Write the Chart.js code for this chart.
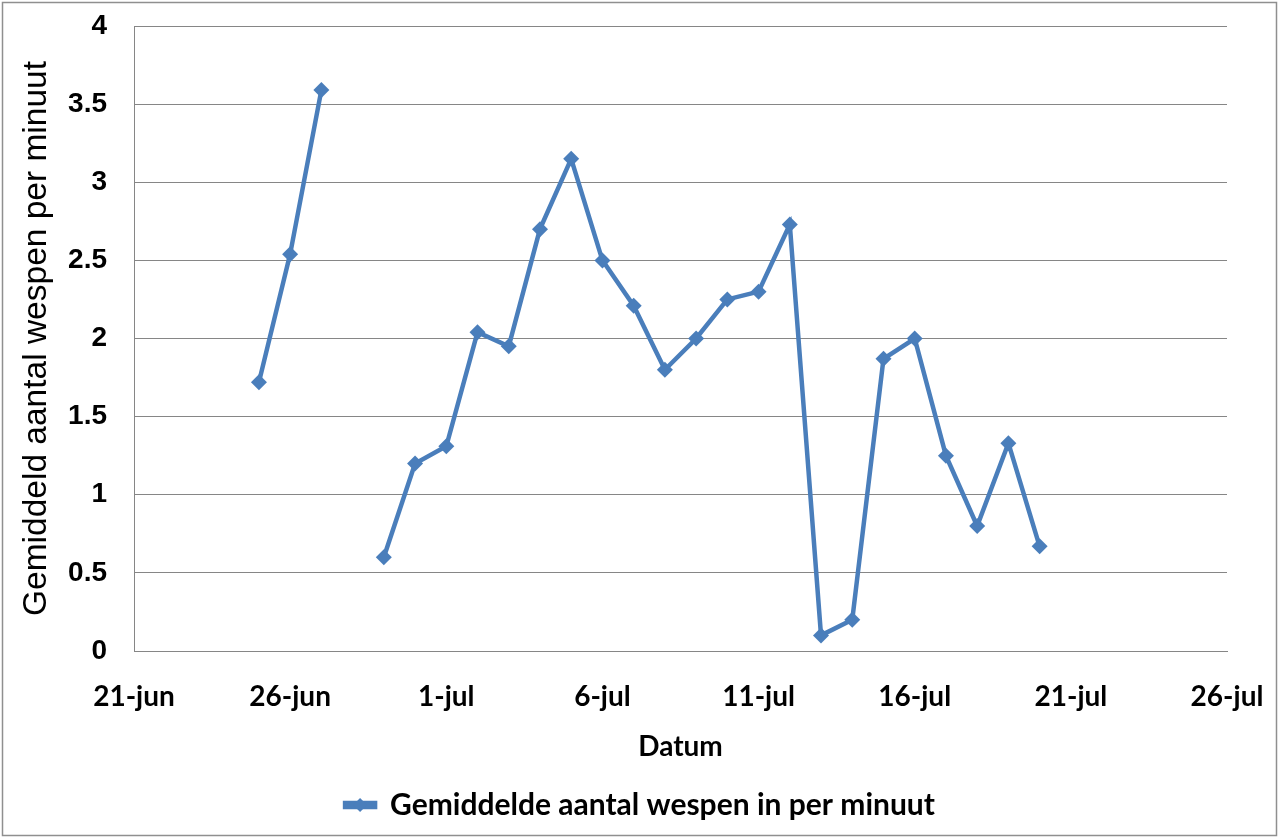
<!DOCTYPE html>
<html>
<head>
<meta charset="utf-8">
<script src="https://cdn.jsdelivr.net/npm/chart.js@4.4.1/dist/chart.umd.min.js"></script>
<style>
html,body{margin:0;padding:0;background:#fff;}
#wrap{position:absolute;left:0;top:0;width:1280px;height:838px;}
</style>
</head>
<body>
<div id="wrap"><canvas id="c" width="1280" height="838"></canvas></div>
<script>
// Days counted from 21-jun (day 0)
const dateLabels = ['25-jun','26-jun','27-jun','28-jun','29-jun','30-jun','1-jul','2-jul','3-jul','4-jul','5-jul','6-jul','7-jul','8-jul','9-jul','10-jul','11-jul','12-jul','13-jul','14-jul','15-jul','16-jul','17-jul','18-jul','19-jul','20-jul'];
const dayNumbers = [4,5,6,7,8,9,10,11,12,13,14,15,16,17,18,19,20,21,22,23,24,25,26,27,28,29];
const waspValues = [1.72,2.54,3.59,null,0.60,1.20,1.31,2.04,1.95,2.70,3.15,2.50,2.21,1.80,2.00,2.25,2.30,2.73,0.10,0.20,1.87,2.00,1.25,0.80,1.33,0.67];
const xTickLabels = ['21-jun','26-jun','1-jul','6-jul','11-jul','16-jul','21-jul','26-jul'];
const seriesName = 'Gemiddelde aantal wespen in per minuut';
const xTitle = 'Datum';
const yTitle = 'Gemiddeld aantal wespen per minuut';

const lineColor = '#4a7ebb';
const gridColor = '#868686';

const points = dayNumbers.map((d, i) => ({x: d, y: waspValues[i], label: dateLabels[i]}));

const framePlugin = {
  id: 'frame',
  beforeDraw(chart) {
    const ctx = chart.ctx;
    ctx.save();
    ctx.fillStyle = '#fff';
    ctx.fillRect(0, 0, chart.width, chart.height);
    ctx.strokeStyle = '#8f8f8f';
    ctx.lineWidth = 1.5;
    ctx.strokeRect(2.5, 2.5, 1274, 833);
    ctx.restore();
  },
  afterDraw(chart) {
    // diamond on legend line symbol
    const lg = chart.legend;
    if (!lg || !lg.legendHitBoxes || !lg.legendHitBoxes.length) return;
    const hb = lg.legendHitBoxes[0];
    const bw = lg.options.labels.boxWidth;
    const cx = hb.left + bw / 2;
    const cy = hb.top + hb.height / 2;
    const ctx = chart.ctx;
    ctx.save();
    ctx.fillStyle = lineColor;
    ctx.beginPath();
    ctx.moveTo(cx, cy - 7);
    ctx.lineTo(cx + 7, cy);
    ctx.lineTo(cx, cy + 7);
    ctx.lineTo(cx - 7, cy);
    ctx.closePath();
    ctx.fill();
    ctx.restore();
  }
};

new Chart(document.getElementById('c'), {
  type: 'line',
  data: {
    datasets: [{
      label: seriesName,
      data: points,
      borderColor: lineColor,
      backgroundColor: lineColor,
      borderWidth: 4.5,
      pointStyle: 'rectRot',
      pointRadius: 8,
      pointBorderWidth: 0,
      pointBackgroundColor: lineColor,
      spanGaps: false,
      tension: 0
    }]
  },
  options: {
    responsive: false,
    animation: false,
    devicePixelRatio: 1,
    layout: {padding: {left: 0, right: 0, top: 26, bottom: 8}},
    scales: {
      x: {
        type: 'linear',
        min: 0, max: 35,
        afterFit(scale) { scale.height = 129; scale.paddingLeft = 0; scale.paddingRight = 53; },
        ticks: {
          stepSize: 5,
          padding: 29,
          color: '#000',
          font: {family: 'Lato', weight: 'bold', size: 28},
          callback: (v) => xTickLabels[Math.round(v / 5)] ?? ''
        },
        grid: {display: false, drawTicks: false},
        border: {display: true, color: gridColor, width: 1},
        title: {
          display: true, text: xTitle, color: '#000',
          font: {family: 'Lato', weight: 'bold', size: 28},
          padding: {top: 0, bottom: 16}
        }
      },
      y: {
        min: 0, max: 4,
        afterFit(scale) { scale.width = 134; scale.paddingTop = 0; scale.paddingBottom = 0; },
        ticks: {
          stepSize: 0.5,
          padding: 27,
          color: '#000',
          font: {family: 'Liberation Sans', weight: 'bold', size: 28},
          callback: (v) => String(Math.round(v * 10) / 10)
        },
        grid: {color: gridColor, lineWidth: 1, drawTicks: false},
        border: {display: true, color: gridColor, width: 1},
        title: {
          display: true, text: yTitle, color: '#000',
          font: {family: 'Liberation Sans', weight: 'normal', size: 33.5},
          padding: {top: 17, bottom: 0}
        }
      }
    },
    plugins: {
      legend: {
        position: 'bottom',
        labels: {
          color: '#000',
          font: {family: 'Lato', weight: 'bold', size: 30},
          boxWidth: 30,
          boxHeight: 4,
          padding: 10
        }
      },
      tooltip: {enabled: false}
    }
  },
  plugins: [framePlugin]
});
</script>
</body>
</html>
